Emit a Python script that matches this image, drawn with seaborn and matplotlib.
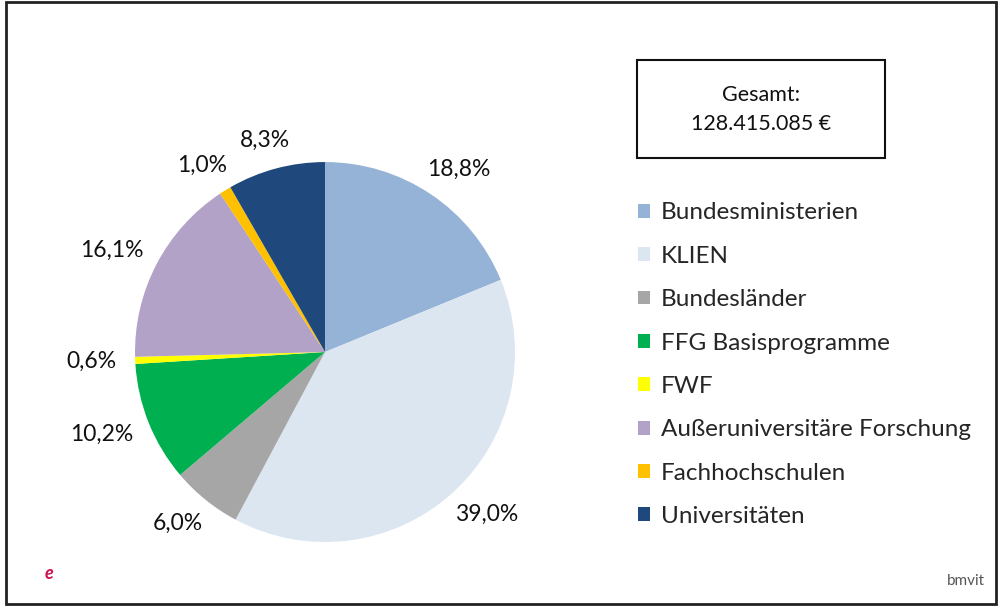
import matplotlib
matplotlib.use("Agg")
import numpy as np
import matplotlib.pyplot as plt
import seaborn as sns
from matplotlib.patches import Rectangle

# Daten
kategorien = ["Bundesministerien", "KLIEN", "Bundesländer", "FFG Basisprogramme",
              "FWF", "Außeruniversitäre Forschung", "Fachhochschulen", "Universitäten"]
anteile = [18.8, 39.0, 6.0, 10.2, 0.6, 16.1, 1.0, 8.3]
farben = ["#95B3D7", "#DCE6F1", "#A6A6A6", "#00B050",
          "#FFFF00", "#B3A2C7", "#FFC000", "#1F497D"]
gesamt = "Gesamt:\n128.415.085 €"

sns.set_theme(style="white")
plt.rcParams["font.family"] = ["Lato", "DejaVu Sans"]

fig = plt.figure(figsize=(10, 6.06), dpi=100)
ax = fig.add_axes([0.135, 0.1056, 0.38, 0.627])

wedges, texts, autotexts = ax.pie(
    anteile, colors=farben, startangle=90, counterclock=False,
    autopct=lambda p: f"{p:.1f}%".replace(".", ","), pctdistance=1.1,
    textprops={"fontsize": 16.5, "color": "#111111"},
    wedgeprops={"linewidth": 0})
ax.set_xlim(-1, 1)
ax.set_ylim(-1, 1)
ax.set_aspect("equal")
ax.axis("off")

# Beschriftungen wie in Excel ausserhalb an den Rand setzen
renderer = fig.canvas.get_renderer()
px_pro_einheit = ax.transData.transform((1, 0))[0] - ax.transData.transform((0, 0))[0]
for t, w in zip(autotexts, wedges):
    winkel = np.deg2rad((w.theta1 + w.theta2) / 2)
    bb = t.get_window_extent(renderer)
    x, y = t.get_position()
    t.set_position((x + bb.width / 2 * np.cos(winkel) / px_pro_einheit,
                    y + bb.height / 2 * np.sin(winkel) / px_pro_einheit))

# Gesamt-Box
fig.patches.append(Rectangle((0.637, 0.739), 0.248, 0.1617, transform=fig.transFigure,
                             fill=False, edgecolor="#111111", linewidth=1.5))
fig.text(0.761, 0.8195, gesamt, ha="center", va="center", fontsize=15.5,
         linespacing=1.6, color="#111111")

# Legende
fig.legend(wedges, kategorien, loc="upper left", bbox_to_anchor=(0.628, 0.682),
           frameon=False, fontsize=17.5, handlelength=0.5, handleheight=0.5,
           handletextpad=0.45, labelspacing=0.92, borderaxespad=0)

# Rahmen und Logos
fig.patches.append(Rectangle((0.006, 0.004), 0.99, 0.992, transform=fig.transFigure,
                             fill=False, edgecolor="#222222", linewidth=2))
fig.text(0.045, 0.045, "e", color="#D0104C", fontsize=13, style="italic", fontweight="bold")
fig.text(0.985, 0.035, "bmvit", color="#555555", fontsize=11, ha="right")

fig.savefig("out.png", dpi=100, facecolor="white")
